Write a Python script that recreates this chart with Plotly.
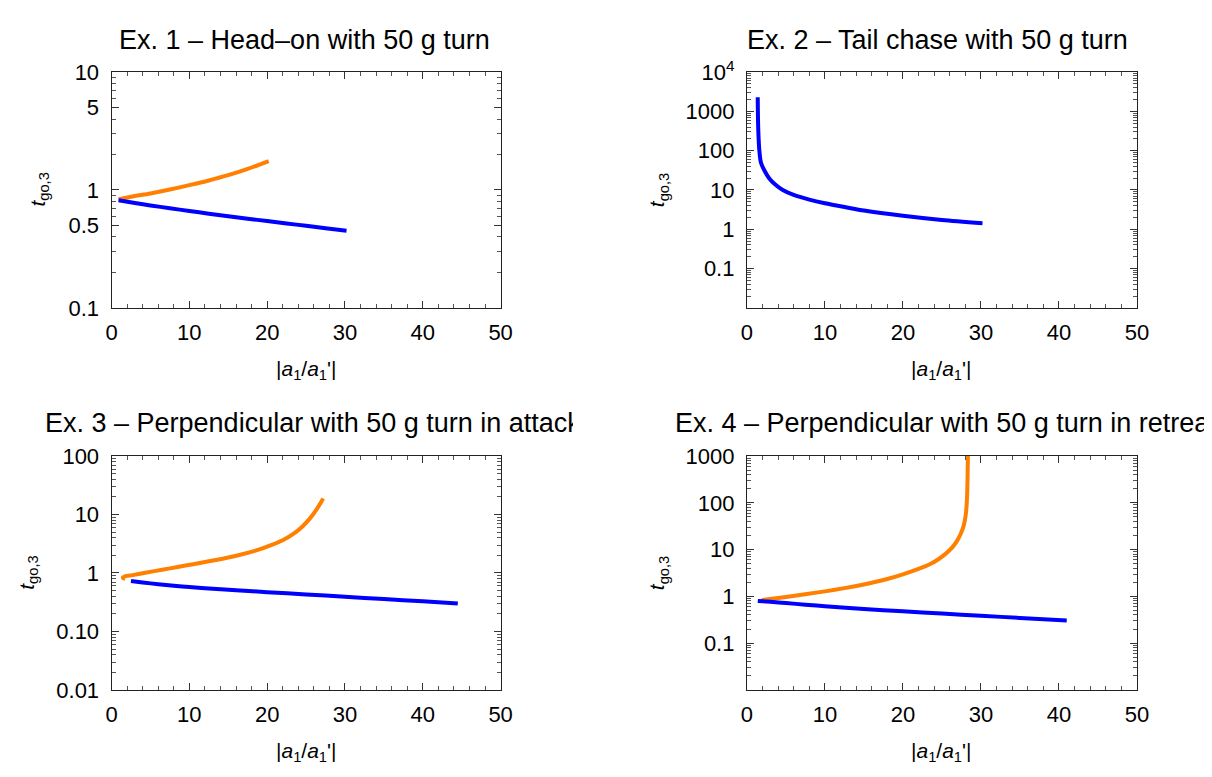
import plotly.graph_objects as go

# ---- data (x = |a1/a1'|, y = t_go,3) ----
ex1_blue_x = [0.9, 3, 5, 7.5, 10, 12.5, 15, 17.5, 20, 22.5, 25, 27.5, 30.2]
ex1_blue_y = [0.82, 0.776, 0.74, 0.70, 0.664, 0.63, 0.599, 0.571, 0.545, 0.52, 0.497, 0.474, 0.452]
ex1_orange_x = [0.9, 2.5, 5, 7.5, 10, 12.5, 15, 17.5, 20.2]
ex1_orange_y = [0.83, 0.875, 0.935, 1.01, 1.10, 1.205, 1.335, 1.51, 1.76]

ex2_blue_x = [1.39, 1.41, 1.47, 1.6, 1.8, 2.3, 2.85, 3.6, 4.6, 6, 8, 10, 12.8, 15, 20, 25, 30.2]
ex2_blue_y = [2300, 1000, 300, 100, 50, 30, 20, 14, 10, 7.5, 5.7, 4.6, 3.6, 3.0, 2.2, 1.72, 1.43]

ex3_blue_x = [2.5, 4, 6, 8, 10, 13, 16, 20, 25, 30, 35, 40, 44.5]
ex3_blue_y = [0.73, 0.689, 0.643, 0.605, 0.574, 0.537, 0.506, 0.47, 0.43, 0.393, 0.358, 0.327, 0.301]
ex3_orange_x = [1.75, 1.45, 1.8, 2.7, 4.5, 6.5, 8.5, 10.5, 12.5, 14.7, 16.8, 18.9, 20.5, 22, 23.5,
                24.5, 25.5, 26.4, 27.2]
ex3_orange_y = [0.79, 0.83, 0.88, 0.92, 1.02, 1.135, 1.27, 1.415, 1.585, 1.80, 2.09, 2.5, 2.99, 3.63,
                4.8, 6.18, 8.6, 12.5, 18.8]

ex4_blue_x = [1.4, 3, 5, 7.5, 10, 15, 20, 25, 30, 35, 41]
ex4_blue_y = [0.80, 0.765, 0.72, 0.665, 0.617, 0.54, 0.478, 0.428, 0.385, 0.346, 0.305]
ex4_orange_x = [1.9, 5, 10, 12.5, 15, 18, 20, 22, 23.5, 24.6, 25.5, 26.3, 26.9, 27.4, 27.8, 28.05,
                28.2, 28.28, 28.33]
ex4_orange_y = [0.83, 0.97, 1.28, 1.5, 1.8, 2.35, 2.95, 3.85, 4.9, 6.3, 8.2, 11.0, 15.0, 21.5, 33,
                55, 110, 300, 1000]

titles = [
    "Ex. 1 \u2013 Head\u2013on with 50 g turn",
    "Ex. 2 \u2013 Tail chase with 50 g turn",
    "Ex. 3 \u2013 Perpendicular with 50 g turn in attack",
    "Ex. 4 \u2013 Perpendicular with 50 g turn in retreat",
]

x_ticks = [0, 10, 20, 30, 40, 50]
x_minor = [v for v in range(0, 51, 2) if v % 10]

ex1_yticks = [0.1, 0.5, 1, 5, 10]
ex1_yticktext = ["0.1", "0.5", "1", "5", "10"]
ex1_yminor = [0.2, 0.3, 0.4, 0.6, 0.7, 0.8, 0.9, 2, 3, 4, 6, 7, 8, 9]
ex2_yticks = [0.1, 1, 10, 100, 1000, 10000]
ex2_yticktext = ["0.1", "1", "10", "100", "1000", "10<sup>4</sup>"]
ex3_yticks = [0.01, 0.1, 1, 10, 100]
ex3_yticktext = ["0.01", "0.10", "1", "10", "100"]
ex4_yticks = [0.1, 1, 10, 100, 1000]
ex4_yticktext = ["0.1", "1", "10", "100", "1000"]

BLUE = "#0000FF"
ORANGE = "#FF8000"
FONT = "Liberation Sans, Arial, sans-serif"
OFF = 8  # page body margin
W, H = 1212 - OFF, 777 - OFF


def log_minor(lo, hi):
    return [m * 10.0 ** k for k in range(lo, hi) for m in range(2, 10)]


def px_x(v):
    return (v - OFF) / W


def px_y(v):
    return 1 - (v - OFF) / H


# frames in screen pixel coords: (left, right, top, bottom)
frames = [(107, 502, 58, 303), (752, 1148, 58, 303), (107, 502, 457, 700), (752, 1148, 457, 700)]
yranges = [[-1, 1], [-2, 4], [-2, 2], [-2, 3]]
yticks = [(ex1_yticks, ex1_yticktext, ex1_yminor),
          (ex2_yticks, ex2_yticktext, log_minor(-2, 4)),
          (ex3_yticks, ex3_yticktext, log_minor(-2, 2)),
          (ex4_yticks, ex4_yticktext, log_minor(-2, 3))]

fig = go.Figure()

series = [
    (1, ex1_orange_x, ex1_orange_y, ORANGE),
    (1, ex1_blue_x, ex1_blue_y, BLUE),
    (2, ex2_blue_x, ex2_blue_y, BLUE),
    (3, ex3_orange_x, ex3_orange_y, ORANGE),
    (3, ex3_blue_x, ex3_blue_y, BLUE),
    (4, ex4_orange_x, ex4_orange_y, ORANGE),
    (4, ex4_blue_x, ex4_blue_y, BLUE),
]
for n, xs, ys, col in series:
    sfx = "" if n == 1 else str(n)
    fig.add_trace(go.Scatter(
        x=xs, y=ys, mode="lines", xaxis="x" + sfx, yaxis="y" + sfx,
        line=dict(color=col, width=4, shape="spline", smoothing=0.8),
        hoverinfo="skip",
    ))

layout = dict(
    width=W, height=H, margin=dict(l=0, r=0, t=0, b=0),
    paper_bgcolor="white", plot_bgcolor="white", showlegend=False,
    font=dict(family=FONT, color="black"),
)
annotations = []
for i, (l, r, t, b) in enumerate(frames):
    sfx = "" if i == 0 else str(i + 1)
    tv, tt, mv = yticks[i]
    common = dict(
        ticks="inside", ticklen=7, tickwidth=1, tickcolor="#333",
        showline=True, linecolor="#222", linewidth=1, mirror="allticks",
        showgrid=False, zeroline=False,
        tickfont=dict(family=FONT, size=22, color="black"),
    )
    layout["xaxis" + sfx] = dict(
        common, domain=[px_x(l), px_x(r)], anchor="y" + sfx, range=[0, 50],
        tickmode="array", tickvals=x_ticks, ticklabelstandoff=5,
        minor=dict(tickmode="array", tickvals=x_minor, ticks="inside", ticklen=4,
                   tickcolor="#555", showgrid=False),
    )
    layout["yaxis" + sfx] = dict(
        common, domain=[px_y(b), px_y(t)], anchor="x" + sfx, type="log",
        range=yranges[i], tickmode="array", tickvals=tv, ticktext=tt,
        ticklabelstandoff=7,
        minor=dict(tickmode="array", tickvals=mv, ticks="inside", ticklen=4,
                   tickcolor="#555", showgrid=False),
    )
    # x axis label
    annotations.append(dict(
        text="|<i>a</i><sub>1</sub>/<i>a</i><sub>1</sub>'|", xref="paper", yref="paper",
        x=px_x((l + r) / 2), y=px_y(b + 65), showarrow=False,
        font=dict(family=FONT, size=21), xanchor="center", yanchor="middle",
    ))
    # y axis label
    ylab_x = [33, 662, 22, 662][i]
    annotations.append(dict(
        text="<i>t</i><sub>go,3</sub>", xref="paper", yref="paper",
        x=px_x(ylab_x), y=px_y((t + b) / 2), showarrow=False, textangle=-90,
        font=dict(family=FONT, size=21), xanchor="center", yanchor="middle",
    ))

# panel titles
annotations.append(dict(text=titles[0], xref="paper", yref="paper", x=px_x(303), y=px_y(25),
                        showarrow=False, font=dict(family=FONT, size=27),
                        xanchor="center", yanchor="middle"))
annotations.append(dict(text=titles[1], xref="paper", yref="paper", x=px_x(946), y=px_y(25),
                        showarrow=False, font=dict(family=FONT, size=27),
                        xanchor="center", yanchor="middle"))
annotations.append(dict(text=titles[2], xref="paper", yref="paper", x=px_x(37), y=px_y(423),
                        showarrow=False, font=dict(family=FONT, size=27), width=528,
                        align="left", xanchor="left", yanchor="middle"))
annotations.append(dict(text=titles[3], xref="paper", yref="paper", x=px_x(677), y=px_y(423),
                        showarrow=False, font=dict(family=FONT, size=27), width=560,
                        align="left", xanchor="left", yanchor="middle"))
layout["annotations"] = annotations

fig.update_layout(**layout)
fig.write_html("out.html")
